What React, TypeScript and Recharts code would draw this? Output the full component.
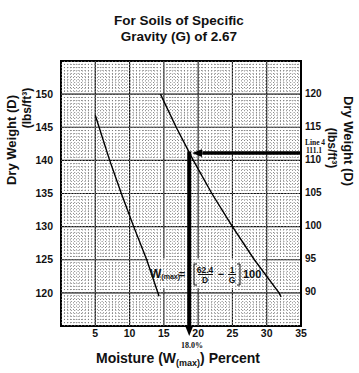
import { CartesianGrid, Line, LineChart, ReferenceArea, ReferenceLine, XAxis, YAxis } from "recharts";

// moisture (%) on x, dry weight (lbs/ft3) on y
const moistureTicks = [5, 10, 15, 20, 25, 30, 35];
const leftTicks = [120, 125, 130, 135, 140, 145, 150];
const rightTicks = [90, 95, 100, 105, 110, 115, 120];

// left curve read against the left axis
const leftCurve = [
  { w: 5.0, d: 146.8 },
  { w: 7.1, d: 140 },
  { w: 8.8, d: 135 },
  { w: 10.6, d: 130 },
  { w: 12.5, d: 125 },
  { w: 14.3, d: 119.5 },
];

// right curve read against the right axis
const rightCurve = [
  { w: 14.5, d: 120 },
  { w: 16.8, d: 115 },
  { w: 19.3, d: 110 },
  { w: 22.0, d: 105 },
  { w: 25.0, d: 100 },
  { w: 28.2, d: 95 },
  { w: 31.8, d: 90 },
  { w: 32.1, d: 89.4 },
];

// "Line 4" reading
const line4Weight = 111.1;
const line4Moisture = 18.7;

// fine graph-paper lines every half unit
const minorX = Array.from({ length: 69 }, (_, i) => 0.5 + i * 0.5);
const minorY = Array.from({ length: 79 }, (_, i) => 115.5 + i * 0.5);

const sans = "'Liberation Sans', Arial, sans-serif";
const serif = "'Liberation Serif', 'Times New Roman', serif";
const tickStyle = { fontSize: 10.5, fontWeight: 700, fill: "#111", fontFamily: sans };

export default function App() {
  return (
    <div style={{ position: "relative", width: 359, height: 373, background: "#fff" }}>
      <style>{`body{margin:0}`}</style>
      <svg width={0} height={0} style={{ position: "absolute" }}>
        <defs>
          <marker
            id="arrowHead"
            markerUnits="userSpaceOnUse"
            markerWidth={10}
            markerHeight={8}
            refX={0}
            refY={4}
            orient="auto"
          >
            <path d="M0,0 L10,4 L0,8 z" fill="#000" />
          </marker>
        </defs>
      </svg>
      <LineChart width={359} height={373} margin={{ top: 61, right: 0, bottom: 0, left: 0 }}>
        {minorX.map((v) => (
          <ReferenceLine
            key={"mx" + v}
            x={v}
            yAxisId="left"
            stroke="#777"
            strokeWidth={0.9}
            strokeDasharray="1 2"
          />
        ))}
        {minorY.map((v) => (
          <ReferenceLine
            key={"my" + v}
            y={v}
            yAxisId="left"
            stroke="#777"
            strokeWidth={0.9}
            strokeDasharray="1 2"
          />
        ))}
        <CartesianGrid yAxisId="left" stroke="#111" strokeWidth={1.1} />
        <XAxis
          type="number"
          dataKey="w"
          domain={[0, 35]}
          ticks={moistureTicks}
          allowDataOverflow
          height={47}
          axisLine={false}
          tickLine={false}
          tickSize={2}
          tickMargin={2}
          tick={tickStyle}
          interval={0}
        />
        <YAxis
          yAxisId="left"
          type="number"
          domain={[115, 155]}
          ticks={leftTicks}
          allowDataOverflow
          width={61}
          axisLine={false}
          tickLine={false}
          tickSize={5}
          tickMargin={3}
          tick={tickStyle}
          interval={0}
        />
        <YAxis
          yAxisId="right"
          orientation="right"
          type="number"
          domain={[85, 125]}
          ticks={rightTicks}
          allowDataOverflow
          width={58}
          axisLine={false}
          tickLine={false}
          tickSize={2}
          tickMargin={2}
          tick={{ ...tickStyle, fontSize: 10, textAnchor: "start", dy: -1 }}
          interval={0}
        />
        <ReferenceArea
          yAxisId="left"
          x1={12.7}
          x2={29.3}
          y1={120.7}
          y2={125.2}
          fill="#fff"
          fillOpacity={1}
          stroke="none"
        />
        <Line
          yAxisId="left"
          data={leftCurve}
          dataKey="d"
          type="linear"
          stroke="#000"
          strokeWidth={1.4}
          dot={false}
          isAnimationActive={false}
        />
        <Line
          yAxisId="right"
          data={rightCurve}
          dataKey="d"
          type="linear"
          stroke="#000"
          strokeWidth={1.4}
          dot={false}
          isAnimationActive={false}
        />
        <ReferenceLine
          yAxisId="right"
          segment={[
            { x: 35, y: line4Weight },
            { x: 20.6, y: line4Weight },
          ]}
          stroke="#000"
          strokeWidth={3.5}
          markerEnd="url(#arrowHead)"
          ifOverflow="visible"
        />
        <ReferenceLine
          yAxisId="right"
          segment={[
            { x: line4Moisture, y: line4Weight + 0.25 },
            { x: line4Moisture, y: 85 },
          ]}
          stroke="#000"
          strokeWidth={4}
          markerEnd="url(#arrowHead)"
          ifOverflow="visible"
        />
        <ReferenceArea
          yAxisId="left"
          x1={0}
          x2={35}
          y1={115}
          y2={155}
          fill="none"
          stroke="#000"
          strokeWidth={2}
        />
      </LineChart>
      <svg
        width={359}
        height={373}
        style={{ position: "absolute", left: 0, top: 0, pointerEvents: "none" }}
      >
        <g fontFamily={sans} fontWeight={700} fill="#111">
          <text x={179} y={25} fontSize={13.5} textAnchor="middle">
            For Soils of Specific
          </text>
          <text x={179} y={40.5} fontSize={13.5} textAnchor="middle">
            Gravity (G) of 2.67
          </text>
          <text x={178} y={363} fontSize={14} textAnchor="middle">
            Moisture (W<tspan fontSize={9} dy={3}>(max)</tspan>
            <tspan dy={-3}>) Percent</tspan>
          </text>
          <text
            x={11}
            y={140}
            fontSize={13}
            textAnchor="middle"
            dominantBaseline="central"
            transform="rotate(-90 11 140)"
          >
            Dry Weight (D)
          </text>
          <text
            x={27}
            y={108}
            fontSize={12}
            textAnchor="middle"
            dominantBaseline="central"
            transform="rotate(-90 27 108)"
          >
            (lbs/ft³)
          </text>
          <text
            x={348}
            y={141}
            fontSize={13}
            textAnchor="middle"
            dominantBaseline="central"
            transform="rotate(90 348 141)"
          >
            Dry Weight (D)
          </text>
          <text
            x={332}
            y={148}
            fontSize={12}
            textAnchor="middle"
            dominantBaseline="central"
            transform="rotate(90 332 148)"
          >
            (lbs/ft³)
          </text>
          {/* formula in the white box */}
          <text x={150} y={278} fontSize={12}>
            W<tspan fontSize={7} dy={1}>(max)</tspan>
          </text>
          <text x={182} y={278} fontSize={11} textAnchor="middle">
            =
          </text>
          <text x={205} y={272.5} fontSize={8.5} textAnchor="middle">
            62.4
          </text>
          <text x={205} y={282.5} fontSize={8.5} textAnchor="middle">
            D
          </text>
          <text x={221} y={278} fontSize={11} textAnchor="middle">
            −
          </text>
          <text x={232} y={272.5} fontSize={8.5} textAnchor="middle">
            1
          </text>
          <text x={232} y={282.5} fontSize={8.5} textAnchor="middle">
            G
          </text>
          <text x={243} y={278} fontSize={11}>
            100
          </text>
        </g>
        <g stroke="#111" strokeWidth={1} fill="none">
          <line x1={198} x2={213} y1={274.5} y2={274.5} />
          <line x1={228} x2={236} y1={274.5} y2={274.5} />
          <path d="M197,264 H194 V285 H197" />
          <path d="M237,264 H240 V285 H237" />
        </g>
        <g fontFamily={serif} fontWeight={700} fill="#111" fontSize={7.5}>
          <text x={315} y={145} textAnchor="middle">
            Line 4
          </text>
          <text x={314} y={152.5} textAnchor="middle">
            111.1
          </text>
          <text x={192} y={348} fontSize={8} textAnchor="middle">
            18.0%
          </text>
        </g>
      </svg>
    </div>
  );
}
